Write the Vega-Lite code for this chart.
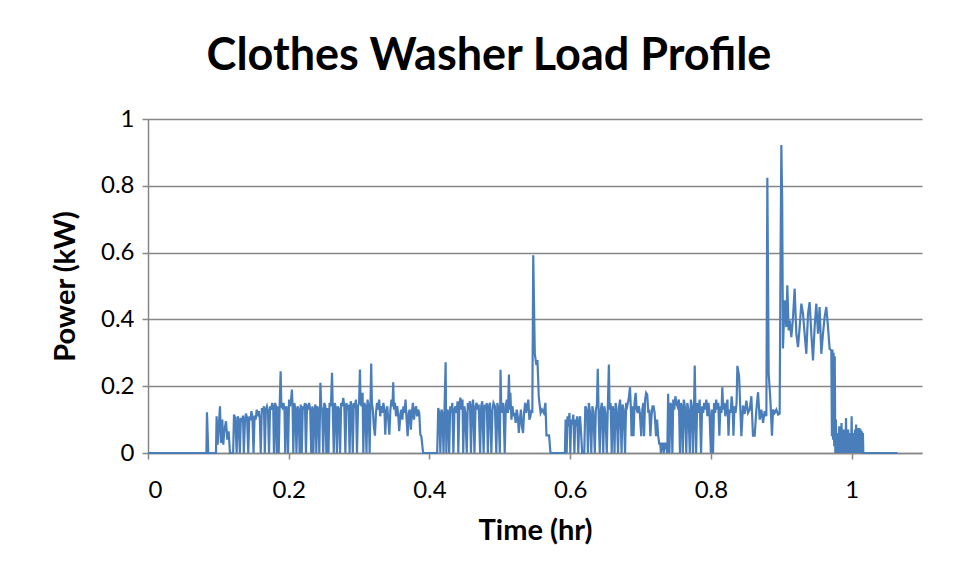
{
"$schema": "https://vega.github.io/schema/vega-lite/v6.json",
"width": 774, "height": 334,
"autosize": {"type": "none"},
"padding": {"left": 148, "top": 119, "right": 36, "bottom": 125},
"background": "white",
"title": {"text": "Clothes Washer Load Profile", "fontSize": 45, "font": "Lato", "fontWeight": "bold", "color": "black", "offset": 28, "dx": -46, "anchor": "middle"},
"data": {"values": [
{"hr":0,"kW":0},{"hr":0.0830,"kW":0},{"hr":0.0838,"kW":0.122},{"hr":0.0857,"kW":0},{"hr":0.0966,"kW":0},
{"hr":0.0975,"kW":0.11},{"hr":0.0990,"kW":0.025},{"hr":0.1023,"kW":0.14},{"hr":0.1037,"kW":0.03},{"hr":0.1056,"kW":0.10},{"hr":0.1070,"kW":0.025},{"hr":0.1084,"kW":0.065},{"hr":0.1108,"kW":0.095},{"hr":0.1127,"kW":0.04},{"hr":0.1146,"kW":0.065},{"hr":0.1165,"kW":0},{"hr":0.1210,"kW":0},
{"hr":0.1222,"kW":0.115},{"hr":0.1240,"kW":0.105},{"hr":0.1260,"kW":0},{"hr":0.1275,"kW":0.11},{"hr":0.1290,"kW":0.10},{"hr":0.1305,"kW":0},{"hr":0.1320,"kW":0.105},{"hr":0.1335,"kW":0.095},{"hr":0.1350,"kW":0.112},{"hr":0.1362,"kW":0},{"hr":0.1378,"kW":0.10},{"hr":0.1392,"kW":0.118},{"hr":0.1408,"kW":0.105},{"hr":0.1425,"kW":0},{"hr":0.1440,"kW":0.11},{"hr":0.1455,"kW":0.098},{"hr":0.1470,"kW":0.125},{"hr":0.1485,"kW":0.105},{"hr":0.1500,"kW":0},{"hr":0.1515,"kW":0.112},{"hr":0.1530,"kW":0.10},{"hr":0.1545,"kW":0.13},{"hr":0.1560,"kW":0.11},{"hr":0.1575,"kW":0.125},{"hr":0.1590,"kW":0.10},{"hr":0.1602,"kW":0},{"hr":0.1618,"kW":0.135},{"hr":0.1632,"kW":0.12},{"hr":0.1648,"kW":0.14},{"hr":0.1660,"kW":0},{"hr":0.1675,"kW":0.13},{"hr":0.1690,"kW":0.14},{"hr":0.1705,"kW":0.125},{"hr":0.1720,"kW":0},{"hr":0.1735,"kW":0.14},{"hr":0.1750,"kW":0.13},{"hr":0.1765,"kW":0.15},{"hr":0.1780,"kW":0.135},{"hr":0.1790,"kW":0},{"hr":0.1805,"kW":0.15},{"hr":0.1818,"kW":0.14},{"hr":0.1830,"kW":0},{"hr":0.1845,"kW":0.14},{"hr":0.1858,"kW":0},{"hr":0.1870,"kW":0.13},{"hr":0.1885,"kW":0.245},{"hr":0.1895,"kW":0.14},{"hr":0.1910,"kW":0.135},{"hr":0.1925,"kW":0.15},{"hr":0.1940,"kW":0.13},{"hr":0.1950,"kW":0},{"hr":0.1965,"kW":0.14},{"hr":0.1980,"kW":0.13},{"hr":0.1990,"kW":0},{"hr":0.2005,"kW":0.16},{"hr":0.2018,"kW":0.14},{"hr":0.2030,"kW":0.15},{"hr":0.2045,"kW":0.19},{"hr":0.2055,"kW":0.14},{"hr":0.2065,"kW":0},{"hr":0.2080,"kW":0.15},{"hr":0.2095,"kW":0.13},{"hr":0.2110,"kW":0},{"hr":0.2125,"kW":0.14},{"hr":0.2140,"kW":0.13},{"hr":0.2155,"kW":0},{"hr":0.2170,"kW":0.145},{"hr":0.2185,"kW":0},{"hr":0.2200,"kW":0.14},{"hr":0.2215,"kW":0.13},{"hr":0.2230,"kW":0.15},{"hr":0.2245,"kW":0},{"hr":0.2260,"kW":0.14},{"hr":0.2275,"kW":0.135},{"hr":0.2290,"kW":0.15},{"hr":0.2305,"kW":0.13},{"hr":0.2320,"kW":0},{"hr":0.2335,"kW":0.14},{"hr":0.2350,"kW":0},{"hr":0.2365,"kW":0.13},{"hr":0.2380,"kW":0.145},{"hr":0.2392,"kW":0},{"hr":0.2405,"kW":0.14},{"hr":0.2420,"kW":0.13},{"hr":0.2435,"kW":0},{"hr":0.2450,"kW":0.21},{"hr":0.2462,"kW":0.14},{"hr":0.2475,"kW":0.13},{"hr":0.2490,"kW":0},{"hr":0.2505,"kW":0.15},{"hr":0.2520,"kW":0.14},{"hr":0.2535,"kW":0},{"hr":0.2550,"kW":0.135},{"hr":0.2565,"kW":0},{"hr":0.2580,"kW":0.15},{"hr":0.2600,"kW":0.14},{"hr":0.2615,"kW":0.24},{"hr":0.2625,"kW":0.145},{"hr":0.2640,"kW":0},{"hr":0.2655,"kW":0.15},{"hr":0.2670,"kW":0.135},{"hr":0.2685,"kW":0},{"hr":0.2700,"kW":0.14},{"hr":0.2715,"kW":0.13},{"hr":0.2730,"kW":0},{"hr":0.2745,"kW":0.15},{"hr":0.2760,"kW":0.14},{"hr":0.2775,"kW":0.165},{"hr":0.2790,"kW":0.14},{"hr":0.2805,"kW":0},{"hr":0.2820,"kW":0.15},{"hr":0.2835,"kW":0.13},{"hr":0.2850,"kW":0.145},{"hr":0.2865,"kW":0},{"hr":0.2880,"kW":0.155},{"hr":0.2895,"kW":0.14},{"hr":0.2910,"kW":0},{"hr":0.2925,"kW":0.15},{"hr":0.2940,"kW":0.135},{"hr":0.2955,"kW":0.16},{"hr":0.2970,"kW":0},{"hr":0.2985,"kW":0.14},{"hr":0.3000,"kW":0.15},{"hr":0.3012,"kW":0.25},{"hr":0.3022,"kW":0.15},{"hr":0.3035,"kW":0.14},{"hr":0.3050,"kW":0.18},{"hr":0.3060,"kW":0},{"hr":0.3075,"kW":0.15},{"hr":0.3090,"kW":0.14},{"hr":0.3105,"kW":0},{"hr":0.3120,"kW":0.16},{"hr":0.3135,"kW":0.14},{"hr":0.3150,"kW":0},{"hr":0.3162,"kW":0.15},{"hr":0.3172,"kW":0.268},{"hr":0.3182,"kW":0.15},{"hr":0.3195,"kW":0.13},{"hr":0.3210,"kW":0.08},{"hr":0.3225,"kW":0.052},{"hr":0.3240,"kW":0.12},{"hr":0.3255,"kW":0.15},{"hr":0.3270,"kW":0.13},{"hr":0.3285,"kW":0.16},{"hr":0.3300,"kW":0.11},{"hr":0.3315,"kW":0.14},{"hr":0.3330,"kW":0.12},{"hr":0.3345,"kW":0.15},{"hr":0.3360,"kW":0.13},{"hr":0.3372,"kW":0.055},{"hr":0.3385,"kW":0.12},{"hr":0.3400,"kW":0.14},{"hr":0.3415,"kW":0.10},{"hr":0.3430,"kW":0.055},{"hr":0.3445,"kW":0.13},{"hr":0.3460,"kW":0.16},{"hr":0.3475,"kW":0.14},{"hr":0.3485,"kW":0.212},{"hr":0.3495,"kW":0.13},{"hr":0.3510,"kW":0.15},{"hr":0.3525,"kW":0.11},{"hr":0.3540,"kW":0.14},{"hr":0.3555,"kW":0.12},{"hr":0.3570,"kW":0.065},{"hr":0.3585,"kW":0.11},{"hr":0.3600,"kW":0.13},{"hr":0.3615,"kW":0.10},{"hr":0.3630,"kW":0.14},{"hr":0.3645,"kW":0.12},{"hr":0.3660,"kW":0.16},{"hr":0.3675,"kW":0.10},{"hr":0.3690,"kW":0.05},{"hr":0.3705,"kW":0.12},{"hr":0.3720,"kW":0.13},{"hr":0.3735,"kW":0.07},{"hr":0.3750,"kW":0.12},{"hr":0.3765,"kW":0.15},{"hr":0.3780,"kW":0.10},{"hr":0.3795,"kW":0.13},{"hr":0.3810,"kW":0.14},{"hr":0.3825,"kW":0.11},{"hr":0.3840,"kW":0.13},{"hr":0.3855,"kW":0.12},{"hr":0.3870,"kW":0.055},{"hr":0.3885,"kW":0.05},{"hr":0.3910,"kW":0},{"hr":0.4110,"kW":0},
{"hr":0.4125,"kW":0.135},{"hr":0.4140,"kW":0.12},{"hr":0.4155,"kW":0},{"hr":0.4170,"kW":0.13},{"hr":0.4185,"kW":0.12},{"hr":0.4200,"kW":0},{"hr":0.4215,"kW":0.14},{"hr":0.4230,"kW":0.272},{"hr":0.4240,"kW":0},{"hr":0.4255,"kW":0.13},{"hr":0.4270,"kW":0.12},{"hr":0.4280,"kW":0},{"hr":0.4295,"kW":0.14},{"hr":0.4310,"kW":0.12},{"hr":0.4325,"kW":0.15},{"hr":0.4340,"kW":0},{"hr":0.4355,"kW":0.13},{"hr":0.4370,"kW":0.14},{"hr":0.4385,"kW":0.12},{"hr":0.4400,"kW":0.155},{"hr":0.4410,"kW":0},{"hr":0.4425,"kW":0.14},{"hr":0.4440,"kW":0.166},{"hr":0.4455,"kW":0.13},{"hr":0.4470,"kW":0.16},{"hr":0.4480,"kW":0},{"hr":0.4495,"kW":0.14},{"hr":0.4510,"kW":0.12},{"hr":0.4530,"kW":0},{"hr":0.4545,"kW":0.15},{"hr":0.4560,"kW":0.13},{"hr":0.4575,"kW":0.155},{"hr":0.4590,"kW":0},{"hr":0.4605,"kW":0.14},{"hr":0.4620,"kW":0.16},{"hr":0.4640,"kW":0},{"hr":0.4655,"kW":0.14},{"hr":0.4670,"kW":0.15},{"hr":0.4685,"kW":0.13},{"hr":0.4700,"kW":0.145},{"hr":0.4720,"kW":0},{"hr":0.4735,"kW":0.14},{"hr":0.4750,"kW":0.155},{"hr":0.4770,"kW":0},{"hr":0.4785,"kW":0.145},{"hr":0.4800,"kW":0.13},{"hr":0.4815,"kW":0.15},{"hr":0.4830,"kW":0},{"hr":0.4845,"kW":0.14},{"hr":0.4860,"kW":0.15},{"hr":0.4880,"kW":0},{"hr":0.4895,"kW":0.13},{"hr":0.4910,"kW":0.15},{"hr":0.4930,"kW":0.14},{"hr":0.4950,"kW":0},{"hr":0.4965,"kW":0.15},{"hr":0.4980,"kW":0.13},{"hr":0.5000,"kW":0},{"hr":0.5010,"kW":0.249},{"hr":0.5020,"kW":0.14},{"hr":0.5035,"kW":0.12},{"hr":0.5050,"kW":0.15},{"hr":0.5070,"kW":0},{"hr":0.5085,"kW":0.14},{"hr":0.5100,"kW":0.16},{"hr":0.5115,"kW":0.12},{"hr":0.5130,"kW":0.235},{"hr":0.5140,"kW":0.13},{"hr":0.5150,"kW":0.18},{"hr":0.5165,"kW":0.10},{"hr":0.5180,"kW":0.14},{"hr":0.5195,"kW":0.11},{"hr":0.5210,"kW":0.12},{"hr":0.5225,"kW":0.09},{"hr":0.5240,"kW":0.13},{"hr":0.5255,"kW":0.11},{"hr":0.5270,"kW":0.06},{"hr":0.5285,"kW":0.10},{"hr":0.5300,"kW":0.13},{"hr":0.5315,"kW":0.08},{"hr":0.5330,"kW":0.06},{"hr":0.5345,"kW":0.12},{"hr":0.5360,"kW":0.15},{"hr":0.5375,"kW":0.12},{"hr":0.5390,"kW":0.14},{"hr":0.5405,"kW":0.16},{"hr":0.5420,"kW":0.10},{"hr":0.5435,"kW":0.11},{"hr":0.5450,"kW":0.13},{"hr":0.5462,"kW":0.12},{"hr":0.5475,"kW":0.592},{"hr":0.5497,"kW":0.297},{"hr":0.5520,"kW":0.263},{"hr":0.5535,"kW":0.278},{"hr":0.5554,"kW":0.167},{"hr":0.5580,"kW":0.12},{"hr":0.5600,"kW":0.13},{"hr":0.5625,"kW":0.12},{"hr":0.5648,"kW":0.15},{"hr":0.5663,"kW":0.053},{"hr":0.5700,"kW":0.053},{"hr":0.5720,"kW":0},{"hr":0.5925,"kW":0},
{"hr":0.5935,"kW":0.10},{"hr":0.5950,"kW":0},{"hr":0.5962,"kW":0.11},{"hr":0.5975,"kW":0.08},{"hr":0.5990,"kW":0.12},{"hr":0.6002,"kW":0},{"hr":0.6015,"kW":0.10},{"hr":0.6030,"kW":0.085},{"hr":0.6045,"kW":0.115},{"hr":0.6060,"kW":0},{"hr":0.6072,"kW":0.10},{"hr":0.6085,"kW":0.08},{"hr":0.6100,"kW":0.11},{"hr":0.6115,"kW":0},{"hr":0.6128,"kW":0.09},{"hr":0.6140,"kW":0.11},{"hr":0.6155,"kW":0.06},{"hr":0.6170,"kW":0},{"hr":0.6200,"kW":0},{"hr":0.6215,"kW":0.14},
{"hr":0.6225,"kW":0.135},{"hr":0.6240,"kW":0.12},{"hr":0.6252,"kW":0},{"hr":0.6265,"kW":0.15},{"hr":0.6280,"kW":0.125},{"hr":0.6300,"kW":0},{"hr":0.6315,"kW":0.14},{"hr":0.6330,"kW":0.12},{"hr":0.6350,"kW":0},{"hr":0.6365,"kW":0.13},{"hr":0.6380,"kW":0.145},{"hr":0.6392,"kW":0.252},{"hr":0.6402,"kW":0.14},{"hr":0.6420,"kW":0},{"hr":0.6435,"kW":0.13},{"hr":0.6450,"kW":0.15},{"hr":0.6470,"kW":0},{"hr":0.6485,"kW":0.14},{"hr":0.6500,"kW":0.12},{"hr":0.6520,"kW":0},{"hr":0.6535,"kW":0.14},{"hr":0.6550,"kW":0.265},{"hr":0.6560,"kW":0.13},{"hr":0.6575,"kW":0.15},{"hr":0.6590,"kW":0},{"hr":0.6605,"kW":0.14},{"hr":0.6620,"kW":0.12},{"hr":0.6630,"kW":0},{"hr":0.6645,"kW":0.15},{"hr":0.6660,"kW":0.13},{"hr":0.6680,"kW":0},{"hr":0.6695,"kW":0.14},{"hr":0.6710,"kW":0.16},{"hr":0.6730,"kW":0},{"hr":0.6745,"kW":0.145},{"hr":0.6760,"kW":0.13},{"hr":0.6780,"kW":0},{"hr":0.6795,"kW":0.15},{"hr":0.6810,"kW":0.14},{"hr":0.6830,"kW":0.16},{"hr":0.6850,"kW":0.197},{"hr":0.6865,"kW":0.12},{"hr":0.6872,"kW":0.05},{"hr":0.6885,"kW":0.14},{"hr":0.6900,"kW":0.05},{"hr":0.6915,"kW":0.15},{"hr":0.6930,"kW":0.18},{"hr":0.6945,"kW":0.13},{"hr":0.6960,"kW":0.12},{"hr":0.6975,"kW":0.14},{"hr":0.6990,"kW":0.12},{"hr":0.7010,"kW":0.05},{"hr":0.7025,"kW":0.13},{"hr":0.7040,"kW":0.15},{"hr":0.7050,"kW":0.05},{"hr":0.7065,"kW":0.16},{"hr":0.7080,"kW":0.18},{"hr":0.7095,"kW":0.175},{"hr":0.7110,"kW":0.12},{"hr":0.7125,"kW":0.13},{"hr":0.7140,"kW":0.05},{"hr":0.7155,"kW":0.11},{"hr":0.7170,"kW":0.14},{"hr":0.7185,"kW":0.14},{"hr":0.7200,"kW":0.12},{"hr":0.7220,"kW":0.05},{"hr":0.7235,"kW":0.10},{"hr":0.7250,"kW":0.053},{"hr":0.7265,"kW":0.028},{"hr":0.7280,"kW":0.028},{"hr":0.7290,"kW":0},{"hr":0.7300,"kW":0.028},{"hr":0.7315,"kW":0.028},{"hr":0.7330,"kW":0},{"hr":0.7345,"kW":0.028},{"hr":0.7360,"kW":0.028},{"hr":0.7380,"kW":0},{"hr":0.7392,"kW":0.177},{"hr":0.7410,"kW":0},{"hr":0.7425,"kW":0.15},{"hr":0.7440,"kW":0.14},{"hr":0.7452,"kW":0},{"hr":0.7465,"kW":0.16},{"hr":0.7480,"kW":0.13},{"hr":0.7495,"kW":0.17},{"hr":0.7510,"kW":0.15},{"hr":0.7525,"kW":0.14},{"hr":0.7545,"kW":0.16},{"hr":0.7560,"kW":0},{"hr":0.7575,"kW":0.15},{"hr":0.7590,"kW":0.13},{"hr":0.7600,"kW":0},{"hr":0.7615,"kW":0.16},{"hr":0.7630,"kW":0.14},{"hr":0.7650,"kW":0},{"hr":0.7665,"kW":0.15},{"hr":0.7680,"kW":0.13},{"hr":0.7700,"kW":0},{"hr":0.7715,"kW":0.16},{"hr":0.7730,"kW":0.14},{"hr":0.7745,"kW":0},{"hr":0.7760,"kW":0.13},{"hr":0.7770,"kW":0.262},{"hr":0.7780,"kW":0.14},{"hr":0.7790,"kW":0},{"hr":0.7805,"kW":0.15},{"hr":0.7820,"kW":0.12},{"hr":0.7840,"kW":0.16},{"hr":0.7860,"kW":0},{"hr":0.7875,"kW":0.14},{"hr":0.7890,"kW":0.12},{"hr":0.7905,"kW":0.15},{"hr":0.7920,"kW":0.13},{"hr":0.7935,"kW":0.16},{"hr":0.7950,"kW":0.11},{"hr":0.7965,"kW":0.15},{"hr":0.7980,"kW":0.12},{"hr":0.8000,"kW":0},{"hr":0.8015,"kW":0.13},{"hr":0.8030,"kW":0},{"hr":0.8045,"kW":0.15},{"hr":0.8060,"kW":0.12},{"hr":0.8075,"kW":0.16},{"hr":0.8090,"kW":0.13},{"hr":0.8105,"kW":0.15},{"hr":0.8120,"kW":0.052},{"hr":0.8135,"kW":0.14},{"hr":0.8150,"kW":0.12},{"hr":0.8162,"kW":0.197},{"hr":0.8175,"kW":0.13},{"hr":0.8190,"kW":0.15},{"hr":0.8205,"kW":0.11},{"hr":0.8220,"kW":0.14},{"hr":0.8235,"kW":0.16},{"hr":0.8250,"kW":0.052},{"hr":0.8265,"kW":0.13},{"hr":0.8280,"kW":0.12},{"hr":0.8295,"kW":0.17},{"hr":0.8310,"kW":0.13},{"hr":0.8320,"kW":0.052},{"hr":0.8335,"kW":0.14},{"hr":0.8350,"kW":0.12},{"hr":0.8365,"kW":0.15},{"hr":0.8376,"kW":0.261},{"hr":0.8400,"kW":0.232},{"hr":0.8433,"kW":0.05},{"hr":0.8456,"kW":0.142},{"hr":0.8480,"kW":0.117},{"hr":0.8504,"kW":0.157},{"hr":0.8527,"kW":0.12},{"hr":0.8551,"kW":0.13},{"hr":0.8575,"kW":0.17},{"hr":0.8598,"kW":0.052},{"hr":0.8622,"kW":0.052},{"hr":0.8646,"kW":0.13},{"hr":0.8670,"kW":0.182},{"hr":0.8693,"kW":0.10},{"hr":0.8717,"kW":0.13},{"hr":0.8741,"kW":0.09},{"hr":0.8764,"kW":0.125},{"hr":0.8788,"kW":0.11},{"hr":0.8802,"kW":0.824},{"hr":0.8821,"kW":0.238},{"hr":0.8845,"kW":0.16},{"hr":0.8868,"kW":0.052},{"hr":0.8883,"kW":0.13},{"hr":0.8905,"kW":0.12},{"hr":0.8930,"kW":0.13},{"hr":0.8955,"kW":0.115},{"hr":0.8977,"kW":0.118},{"hr":0.8990,"kW":0.6},{"hr":0.9001,"kW":0.922},{"hr":0.9013,"kW":0.75},{"hr":0.9024,"kW":0.313},
{"hr":0.9048,"kW":0.457},{"hr":0.9072,"kW":0.377},{"hr":0.9086,"kW":0.502},{"hr":0.9105,"kW":0.367},{"hr":0.9119,"kW":0.397},{"hr":0.9143,"kW":0.347},{"hr":0.9167,"kW":0.407},{"hr":0.9190,"kW":0.492},{"hr":0.9214,"kW":0.357},{"hr":0.9238,"kW":0.317},{"hr":0.9261,"kW":0.377},{"hr":0.9285,"kW":0.447},{"hr":0.9309,"kW":0.417},{"hr":0.9332,"kW":0.357},{"hr":0.9356,"kW":0.297},{"hr":0.9380,"kW":0.417},{"hr":0.9403,"kW":0.452},{"hr":0.9427,"kW":0.357},{"hr":0.9451,"kW":0.277},{"hr":0.9474,"kW":0.377},{"hr":0.9498,"kW":0.447},{"hr":0.9522,"kW":0.357},{"hr":0.9545,"kW":0.437},{"hr":0.9569,"kW":0.297},{"hr":0.9593,"kW":0.357},{"hr":0.9616,"kW":0.407},{"hr":0.9640,"kW":0.437},{"hr":0.9664,"kW":0.377},{"hr":0.9687,"kW":0.312},{"hr":0.9711,"kW":0.307},
{"hr":0.9720,"kW":0.05},{"hr":0.9728,"kW":0.31},{"hr":0.9736,"kW":0.04},{"hr":0.9744,"kW":0.30},{"hr":0.9752,"kW":0.02},{"hr":0.9760,"kW":0.29},{"hr":0.9768,"kW":0},{"hr":0.9776,"kW":0.10},
{"hr":0.9784,"kW":0},{"hr":0.9792,"kW":0.06},{"hr":0.9800,"kW":0},{"hr":0.9808,"kW":0.05},{"hr":0.9816,"kW":0},{"hr":0.9824,"kW":0.08},{"hr":0.9832,"kW":0},{"hr":0.9840,"kW":0.06},{"hr":0.9848,"kW":0.01},{"hr":0.9856,"kW":0.09},{"hr":0.9864,"kW":0},{"hr":0.9872,"kW":0.05},{"hr":0.9880,"kW":0},{"hr":0.9888,"kW":0.07},{"hr":0.9896,"kW":0},{"hr":0.9904,"kW":0.06},{"hr":0.9912,"kW":0},{"hr":0.9920,"kW":0.105},{"hr":0.9928,"kW":0},{"hr":0.9936,"kW":0.05},{"hr":0.9944,"kW":0},{"hr":0.9952,"kW":0.07},{"hr":0.9960,"kW":0},{"hr":0.9968,"kW":0.06},{"hr":0.9976,"kW":0},{"hr":0.9984,"kW":0.05},{"hr":0.9992,"kW":0},{"hr":1.0000,"kW":0.11},{"hr":1.0008,"kW":0},{"hr":1.0016,"kW":0.06},{"hr":1.0024,"kW":0},{"hr":1.0032,"kW":0.05},{"hr":1.0040,"kW":0},{"hr":1.0048,"kW":0.07},{"hr":1.0056,"kW":0},{"hr":1.0064,"kW":0.085},{"hr":1.0072,"kW":0},{"hr":1.0080,"kW":0.06},{"hr":1.0088,"kW":0},{"hr":1.0096,"kW":0.075},{"hr":1.0104,"kW":0},{"hr":1.0112,"kW":0.075},{"hr":1.0120,"kW":0},{"hr":1.0128,"kW":0.07},{"hr":1.0136,"kW":0},{"hr":1.0144,"kW":0.065},{"hr":1.0152,"kW":0},{"hr":1.0160,"kW":0.06},{"hr":1.0166,"kW":0},{"hr":1.0650,"kW":0}
]},
"mark": {"type": "line", "color": "#4A7EBB", "strokeWidth": 2.2, "interpolate": "linear"},
"encoding": {
  "x": {"field": "hr", "type": "quantitative", "sort": null,
        "scale": {"domain": [0, 1.1], "nice": false},
        "axis": {"values": [0, 0.2, 0.4, 0.6, 0.8, 1], "format": "~g", "grid": false, "title": "Time (hr)",
                 "labelFontSize": 24, "labelPadding": 19, "titleX": 387, "titleY": 77, "titleBaseline": "middle", "titleAlign": "center"}},
  "y": {"field": "kW", "type": "quantitative",
        "scale": {"domain": [0, 1], "nice": false},
        "axis": {"values": [0, 0.2, 0.4, 0.6, 0.8, 1], "format": "~g", "grid": true, "title": "Power (kW)",
                 "labelFontSize": 24, "labelPadding": 8, "titleX": -83, "titleY": 167, "titleAngle": 270, "titleBaseline": "middle", "titleAlign": "center"}}
},
"config": {
  "view": {"stroke": null},
  "axis": {"labelFont": "Lato", "labelColor": "black", "titleFont": "Lato", "titleFontSize": 29, "titleFontWeight": "bold", "titleColor": "black",
           "domainColor": "#868686", "domainWidth": 1.5, "tickColor": "#868686", "tickWidth": 1.5, "tickSize": 6,
           "gridColor": "#868686", "gridWidth": 1.3}
}
}
